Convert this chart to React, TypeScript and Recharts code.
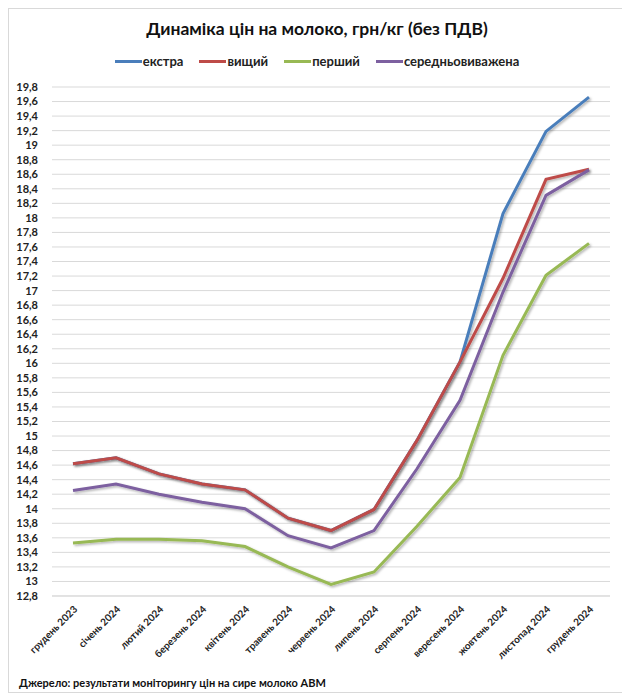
import { LineChart, Line, XAxis, YAxis, CartesianGrid } from 'recharts';

const months = [
  'грудень 2023',
  'січень 2024',
  'лютий 2024',
  'березень 2024',
  'квітень 2024',
  'травень 2024',
  'червень 2024',
  'липень 2024',
  'серпень 2024',
  'вересень 2024',
  'жовтень 2024',
  'листопад 2024',
  'грудень 2024',
];

const ekstra = [14.62, 14.7, 14.48, 14.34, 14.26, 13.87, 13.7, 13.99, 14.94, 16.02, 18.06, 19.19, 19.66];
const vyshchyi = [14.62, 14.7, 14.48, 14.34, 14.26, 13.87, 13.7, 13.99, 14.94, 16.02, 17.17, 18.53, 18.67];
const pershyi = [13.53, 13.58, 13.58, 13.56, 13.48, 13.2, 12.96, 13.13, 13.76, 14.43, 16.11, 17.21, 17.65];
const serednio = [14.25, 14.34, 14.2, 14.09, 14.0, 13.63, 13.46, 13.7, 14.55, 15.49, 16.98, 18.31, 18.66];

const yTicks = Array.from({ length: 36 }, (_, i) => Math.round((12.8 + i * 0.2) * 10) / 10);

const seriesList = [
  { key: 'ekstra', name: 'екстра', color: '#4A7EBB' },
  { key: 'vyshchyi', name: 'вищий', color: '#BE4B48' },
  { key: 'pershyi', name: 'перший', color: '#98B954' },
  { key: 'serednio', name: 'середньовиважена', color: '#7D60A0' },
];

const data = months.map((m, i) => ({
  month: m,
  ekstra: ekstra[i],
  vyshchyi: vyshchyi[i],
  pershyi: pershyi[i],
  serednio: serednio[i],
}));

const FONT = 'Lato, "Open Sans", sans-serif';

// rotated month labels
const MonthTick = ({ x, y, payload }: any) => (
  <text
    x={x + 5}
    y={y + 6}
    transform={`rotate(-45, ${x + 5}, ${y + 6})`}
    textAnchor="end"
    fontSize={10}
    fontWeight={700}
    fill="#222"
    fontFamily={FONT}
  >
    {payload.value}
  </text>
);

export default function App() {
  return (
    <div
      style={{
        position: 'relative',
        width: 616,
        height: 683,
        border: '1px solid #d9d9d9',
        background: '#fff',
      }}
    >
      <div
        style={{
          position: 'absolute',
          top: 9,
          left: 0,
          width: '100%',
          textAlign: 'center',
          fontFamily: FONT,
          fontWeight: 700,
          fontSize: 17.5,
          color: '#111',
        }}
      >
        Динаміка цін на молоко, грн/кг (без ПДВ)
      </div>
      {/* legend */}
      <div
        style={{
          position: 'absolute',
          top: 44,
          left: 0,
          width: '100%',
          display: 'flex',
          justifyContent: 'center',
          gap: 16,
          fontFamily: FONT,
        }}
      >
        {seriesList.map((s) => (
          <div key={s.key} style={{ display: 'flex', alignItems: 'center', fontSize: 13, fontWeight: 700, color: '#222' }}>
            <span style={{ display: 'inline-block', width: 27, height: 3, background: s.color, marginRight: 1 }} />
            {s.name}
          </div>
        ))}
      </div>
      <LineChart
        width={616}
        height={683}
        data={data}
        margin={{ top: 78, right: 15, bottom: 26, left: 3 }}
      >
        <defs>
          <filter id="shadow" x="-5%" y="-5%" width="110%" height="110%">
            <feDropShadow dx="1.5" dy="1.5" stdDeviation="1" floodColor="#000" floodOpacity="0.3" />
          </filter>
        </defs>
        <CartesianGrid vertical={false} stroke="#d9d9d9" strokeWidth={1} />
        <XAxis
          dataKey="month"
          interval={0}
          tick={<MonthTick />}
          tickLine={false}
          axisLine={{ stroke: '#d9d9d9' }}
          padding={{ left: 21, right: 21 }}
          height={70}
        />
        <YAxis
          domain={[12.8, 19.8]}
          ticks={yTicks}
          interval={0}
          width={40}
          tickLine={false}
          axisLine={false}
          tickFormatter={(v: number) => String(v).replace('.', ',')}
          tick={{ fontSize: 11, fontWeight: 700, fill: '#222', fontFamily: FONT }}
          tickMargin={8}
        />
        {seriesList.map((s) => (
          <Line
            key={s.key}
            type="linear"
            dataKey={s.key}
            name={s.name}
            stroke={s.color}
            strokeWidth={3}
            dot={false}
            activeDot={false}
            isAnimationActive={false}
            style={{ filter: 'url(#shadow)' }}
          />
        ))}
      </LineChart>
      <div
        style={{
          position: 'absolute',
          left: 10,
          top: 667,
          fontFamily: FONT,
          fontWeight: 700,
          fontSize: 11,
          color: '#111',
        }}
      >
        Джерело: результати моніторингу цін на сире молоко АВМ
      </div>
    </div>
  );
}
